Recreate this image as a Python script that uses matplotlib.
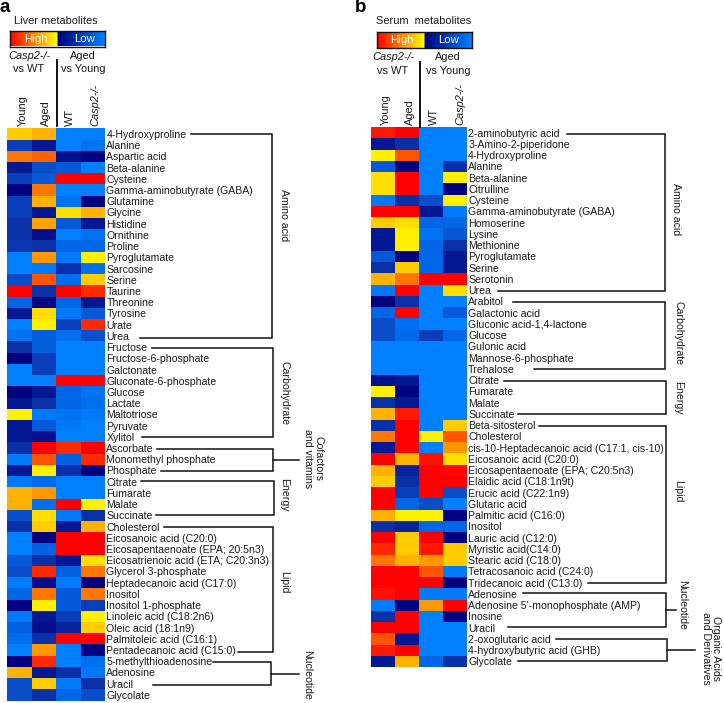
import numpy as np
import matplotlib
matplotlib.use("Agg")
import matplotlib.pyplot as plt
from matplotlib.colors import LinearSegmentedColormap

plt.rcParams['font.family'] = ['Liberation Sans', 'DejaVu Sans']

W, H = 724, 703
columns = ["Young", "Aged", "WT", "Casp2-/-"]

liver_labels = ["4-Hydroxyproline","Alanine","Aspartic acid","Beta-alanine","Cysteine",
    "Gamma-aminobutyrate (GABA)","Glutamine","Glycine","Histidine","Ornithine","Proline",
    "Pyroglutamate","Sarcosine","Serine","Taurine","Threonine","Tyrosine","Urate","Urea",
    "Fructose","Fructose-6-phosphate","Galctonate","Gluconate-6-phosphate","Glucose","Lactate",
    "Maltotriose","Pyruvate","Xylitol","Ascorbate","Monomethyl phosphate","Phosphate",
    "Citrate","Fumarate","Malate","Succinate","Cholesterol","Eicosanoic acid (C20:0)",
    "Eicosapentaenoate (EPA; 20:5n3)","Eicosatrienoic acid (ETA; C20:3n3)","Glycerol 3-phosphate",
    "Heptadecanoic acid (C17:0)","Inositol","Inositol 1-phosphate","Linoleic acid (C18:2n6)",
    "Oleic acid (18:1n9)","Palmitoleic acid (C16:1)","Pentadecanoic acid (C15:0)",
    "5-methylthioadenosine","Adenosine","Uracil","Glycolate"]

# Colour codes: 0 bright blue ... 4 navy, 5 yellow ... 9 red
liver_values = [
    [6,6.5,0,0],[2.5,3.5,0,0.5],[7.5,7.8,3.7,4],[3.5,2,1.5,0],[2.5,1.5,9,9],
    [4,7.5,0,0],[2.5,6.5,0.5,4],[2.5,3.5,5.5,6.5],[3,6.8,1.5,3.5],[3,3.7,0,0.5],
    [2.8,3,1,1],[0,7,0.3,5],[0,0.3,3,0.7],[2,8,0.7,6],[9,3,9,8.5],
    [1,3.8,1,3.5],[3.5,5.5,0.3,1.5],[0,5,2.5,8.5],[0.5,1.3,0.7,1.8],[3,1.3,0,0],
    [4,2.5,0,0],[0,2.5,0,0],[0,0,9,9],[4,3.5,1,0.5],[3.5,3,1,0.7],
    [5,0.2,0.5,0.3],[3.5,1.5,0.3,0],[3.5,3.7,0,0],[3,9,8.5,9],[0.3,8,1.2,8.5],
    [3.5,5,3,4],[0.3,0.8,0,0],[6.5,7,0,0],[6.5,0.7,9,5],[2,5.5,0.3,3],
    [3,6,3.5,6.5],[0,4,9,9],[0,1.2,9,9],[1.5,3,3.5,5.5],[2,8.5,1.2,7.5],
    [0.2,3.7,0.2,4],[1,7.5,1.5,7.5],[4,5,1.5,2.5],[0.3,3.5,2.5,5],[1.2,3.7,3.3,6],
    [0.7,3,9,9],[0,7,0,4],[4,8.5,0,0.7],[6.5,3.5,3,0.3],[2,6,0.3,3],[2,3,1,2]]

serum_labels = ["2-aminobutyric acid","3-Amino-2-piperidone","4-Hydroxyproline","Alanine","Beta-alanine",
    "Citrulline","Cysteine","Gamma-aminobutyrate (GABA)","Homoserine","Lysine","Methionine",
    "Pyroglutamate","Serine","Serotonin","Urea","Arabitol","Galactonic acid","Gluconic acid-1,4-lactone",
    "Glucose","Gulonic acid","Mannose-6-phosphate","Trehalose","Citrate","Fumarate","Malate","Succinate",
    "Beta-sitosterol","Cholesterol","cis-10-Heptadecanoic acid (C17:1, cis-10)","Eicosanoic acid (C20:0)",
    "Eicosapentaenoate (EPA; C20:5n3)","Elaidic acid (C18:1n9t)","Erucic acid (C22:1n9)","Glutaric acid",
    "Palmitic acid (C16:0)","Inositol","Lauric acid (C12:0)","Myristic acid(C14:0)","Stearic acid (C18:0)",
    "Tetracosanoic acid (C24:0)","Tridecanoic acid (C13:0)","Adenosine","Adenosine 5'-monophosphate (AMP)",
    "Inosine","Uracil","2-oxoglutaric acid","4-hydroxybutyric acid (GHB)","Glycolate"]

serum_values = [
    [8.7,9,0,0],[3.5,3,0,0],[5,8,0,0],[1.5,4,0,3],[5.5,9,0,5],
    [5.5,9,0,4],[0.3,3,2,5],[9,9,3.5,0.3],[6,5.5,1,1],[3.5,5,0.5,1.5],
    [3.5,5,1,3],[1.5,4,1,3.5],[3,6,1,3.5],[6.5,7.5,9,9],[0.3,9,0,5.5],
    [4,3,0,0],[1,9,0,1.5],[2,0.7,0,0],[2,0.8,2.5,1],[0,0,0,0],
    [0,0,0,0],[0,0,0,0],[3.7,3.5,0,0],[5,4,0,0],[3,3.5,0,0],
    [6.5,8.7,0,0],[3,9,0,6],[7.5,9,5,8],[3.5,9,0,7],[9,6.5,8.8,5.5],
    [6.5,3.3,9,8.9],[6,3,9,9],[9,2.5,9,2],[9,1,2,0],[6.5,5,5,4],
    [3,3.3,1,1],[9,6,9,4],[8.5,6,8.7,6],[7.5,6.5,7,6],[9,9,8,0.2],
    [9,9,9,4],[8.8,9,0.2,0.2],[0.2,4,7,9],[3,9,0,4],[9,9,0,0],
    [8,3.5,0,0],[8.7,9,0,0],[3.5,6.5,1,3]]

# Group brackets: top y, top x start, bottom y, bottom x start, bracket x, stem end x
liver_groups = [(134,191,338,140,272,None),(348,152,437,142,272.5,None),(449,157,471,161,273,299),
                (481,141,515,156,274,None),(527,164,652,238,273,None),(662,213,685,153,271,299)]
serum_groups = [(134,567,291,498,665,None),(302,513,369,534,665,None),(381,504,414,518,666,None),
                (426,539,583,588,666,None),(593,523,627,508,666,676),(639,556,661,518,667,695)]

liver_group_text = [("Amino acid",284,215),("Carbohydrate",284,393),("Cofactors\nand vitamins",313,459),
                    ("Energy",284,495),("Lipid",284,582),("Nucleotide",307,675)]
serum_group_text = [("Amino acid",676,209),("Carbohydrate",678,333),("Energy",678,398),("Lipid",678,491),
                    ("Nucleotide",682,605),("Organic Acids\nand Derivatives",711,648)]

node_vals = [0,1,2,3,4,5,6,7,8,9]
node_cols = ["#0080ff","#0066e6","#0a4cc8","#0a30a8","#00007f","#fff000","#ffcc00","#ff9900","#ff5500","#ff0000"]
heat_cmap = LinearSegmentedColormap.from_list("heat", [(v/9, c) for v, c in zip(node_vals, node_cols)])
legend_cmap = LinearSegmentedColormap.from_list("legend",
    [(0,"#ff0000"),(0.25,"#ff8000"),(0.495,"#ffff00"),(0.505,"#00007f"),(1,"#0080ff")])

fig = plt.figure(figsize=(W/100, H/100), dpi=100)

def axes_px(x0, y0, x1, y1):
    return fig.add_axes([x0/W, 1-y1/H, (x1-x0)/W, (y1-y0)/H])

ov = fig.add_axes([0,0,1,1], zorder=5)
ov.set_xlim(0,W); ov.set_ylim(H,0); ov.axis("off"); ov.patch.set_alpha(0)

TXT = "#1a1a1a"
FS = 7.55
FH = 7.9

def panel(letter, lx, title, title_x, box, values, labels, groups, gtext, bar, hb, hl, hdr, vline, colx, coly):
    ov.text(lx, 7, letter, fontsize=13.5, fontweight="bold", ha="left", va="center", color="k")
    ov.text(title_x, 21, title, fontsize=FH, ha="center", va="center", color=TXT)
    # legend bar
    a = axes_px(*bar)
    a.imshow(np.linspace(0,1,256)[None,:], aspect="auto", cmap=legend_cmap)
    a.set_xticks([]); a.set_yticks([])
    for s in a.spines.values():
        s.set_linewidth(1); s.set_color("#111111")
    yb = (bar[1]+bar[3])/2
    ov.text(hb, yb, "High", color="white", fontsize=FH+0.3, ha="center", va="center")
    ov.text(hl, yb, "Low", color="white", fontsize=FH+0.3, ha="center", va="center")
    # headers
    x1, x2, y1, y2 = hdr
    ov.text(x1, y1, "Casp2-/-", style="italic", fontsize=FH, ha="center", va="center", color=TXT)
    ov.text(x1, y2, "vs WT", fontsize=FH, ha="center", va="center", color=TXT)
    ov.text(x2, y1, "Aged", fontsize=FH, ha="center", va="center", color=TXT)
    ov.text(x2, y2, "vs Young", fontsize=FH, ha="center", va="center", color=TXT)
    ov.plot([vline[0]]*2, [vline[1], vline[2]], color="k", lw=1.3)
    for name, cx in zip(columns, colx):
        ov.text(cx+1.5, coly, name, rotation=90, ha="center", va="bottom", fontsize=FH,
                style="italic" if "Casp" in name else "normal", color=TXT)
    # heat map
    ax = axes_px(*box)
    data = np.array(values)
    ax.pcolormesh(data, cmap=heat_cmap, vmin=0, vmax=9, rasterized=True)
    ax.set_ylim(len(labels), 0)
    ax.set_xticks([])
    ax.yaxis.tick_right()
    ax.set_yticks(np.arange(len(labels))+0.5, labels, fontsize=FS, color=TXT)
    ax.tick_params(axis="y", length=0, pad=1.0)
    for s in ax.spines.values():
        s.set_visible(False)
    # brackets
    for ty, tx, by, bx, bkx, stem in groups:
        ov.plot([tx,bkx,bkx,bx],[ty,ty,by,by], color="#111111", lw=1.1, solid_joinstyle="miter")
        if stem:
            ov.plot([bkx,stem],[(ty+by)/2]*2, color="#111111", lw=1.1)
    for t, x, y in gtext:
        ov.text(x, y, t, rotation=-90, ha="center", va="center", fontsize=FS, color=TXT,
                linespacing=1.1, multialignment="center")

panel("a", 0, "Liver metabolites", 56, (7,128.3,105,700.5), liver_values, liver_labels,
      liver_groups, liver_group_text, (10,31,105,46.5), 36, 85, (29,83,56,69), (57,60,126),
      (21,44,68,94), 126)
panel("b", 355, "Serum  metabolites", 424, (370.7,127,466.7,667), serum_values, serum_labels,
      serum_groups, serum_group_text, (377,32,472,48), 402, 449, (393,448,57,71), (420,62,127),
      (384,408,432,459), 125)

fig.savefig("out.png", dpi=100)
